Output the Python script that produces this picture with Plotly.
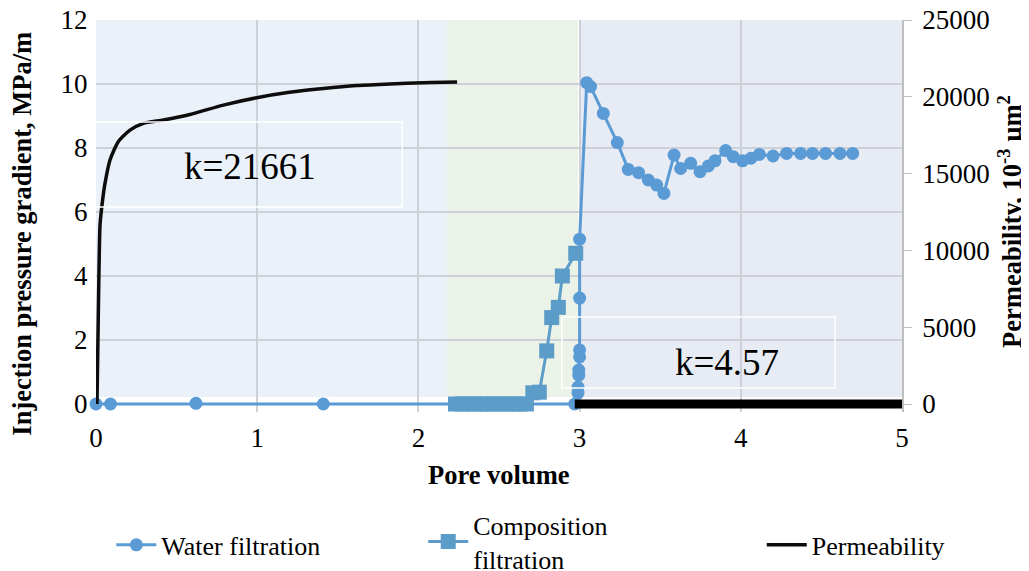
import plotly.graph_objects as go

# ---------------- data ----------------
water_x = [0, 0.09, 0.62, 1.41, 2.97, 2.99, 2.99, 2.995, 2.995, 3.0, 3.0, 3.0, 3.0,
           3.044, 3.068, 3.147, 3.234, 3.302, 3.366, 3.426, 3.478, 3.523, 3.586,
           3.627, 3.689, 3.747, 3.799, 3.84, 3.906, 3.953, 4.011, 4.063, 4.115,
           4.2, 4.284, 4.371, 4.445, 4.526, 4.615, 4.694]
water_y = [0, 0, 0.02, 0, 0, 0.34, 0.53, 0.9, 1.06, 1.47, 1.69, 3.31, 5.15,
           10.04, 9.92, 9.08, 8.17, 7.33, 7.23, 7.0, 6.84, 6.58, 7.78,
           7.36, 7.52, 7.26, 7.44, 7.6, 7.92, 7.73, 7.6, 7.68, 7.8,
           7.75, 7.83, 7.83, 7.83, 7.83, 7.83, 7.83]

comp_x = [2.23, 2.27, 2.31, 2.35, 2.39, 2.43, 2.47, 2.51, 2.55, 2.59, 2.63, 2.67,
          2.71, 2.75, 2.796, 2.827, 2.868, 2.893, 2.976]
comp_y = [0, 0, 0, 0, 0, 0, 0, 0, 0, 0, 0, 0,
          0.35, 0.37, 1.66, 2.7, 3.02, 4.0, 4.71]

perm1_x = [0.006, 0.012, 0.018, 0.025, 0.041, 0.056, 0.087, 0.138, 0.211, 0.294,
           0.418, 0.583, 0.79, 0.997, 1.2, 1.41, 1.617, 1.824, 2.03, 2.24]
perm1_y = [0, 4170, 8330, 11670, 13280, 14380, 15890, 17080, 17830, 18270,
           18490, 18850, 19460, 19940, 20290, 20540, 20730, 20830, 20920, 20960]

perm2_x = [2.97, 5.0]
perm2_y = [4.57, 4.57]

left_ticks = [0, 2, 4, 6, 8, 10, 12]
right_ticks = [0, 5000, 10000, 15000, 20000, 25000]
right_ticktext = ["0", "5000", "10000", "15000", "20000", "25000"]
x_ticks = [0, 1, 2, 3, 4, 5]

label_k1 = "k=21661"
label_k2 = "k=4.57"

# ---------------- styling ----------------
FONT = "Liberation Serif"
BLUE = "#5b9bd5"
BLUE2 = "#5b9cc8"
GRID = "#cdd1d7"
TICK = 27
TITLE = 26.5

fig = go.Figure()

fig.add_trace(go.Scatter(
    x=water_x, y=water_y, name="Water filtration", mode="lines+markers",
    line=dict(color=BLUE, width=3), marker=dict(symbol="circle", size=13, color=BLUE),
    cliponaxis=False, yaxis="y", legend="legend"))

fig.add_trace(go.Scatter(
    x=comp_x, y=comp_y, name="Composition<br>filtration", mode="lines+markers",
    line=dict(color=BLUE2, width=3), marker=dict(symbol="square", size=15, color=BLUE2),
    cliponaxis=False, yaxis="y", legend="legend2"))

fig.add_trace(go.Scatter(
    x=perm1_x, y=perm1_y, name="Permeability", mode="lines",
    line=dict(color="#0d0d0d", width=3.5, shape="spline", smoothing=0.6),
    yaxis="y2", legend="legend3"))

fig.add_trace(go.Scatter(
    x=perm2_x, y=perm2_y, name="Permeability", mode="lines", showlegend=False,
    line=dict(color="#000000", width=9), yaxis="y2", legend="legend3"))

# background regions (below gridlines)
regions = [(0, 2.18, "#eaf1f9"), (2.18, 2.99, "#ebf3e8"), (3.005, 5.0, "#e7ebf3")]
for x0, x1, col in regions:
    fig.add_shape(type="rect", xref="x", yref="y", x0=x0, x1=x1, y0=0.22, y1=12,
                  fillcolor=col, line=dict(width=0), layer="below")

# annotation boxes
fig.add_shape(type="rect", xref="x", yref="y", x0=-0.012, x1=1.9, y0=6.16, y1=8.81,
              line=dict(color="white", width=1.5), layer="above")
fig.add_shape(type="rect", xref="x", yref="y", x0=2.89, x1=4.585, y0=0.5, y1=2.72,
              line=dict(color="white", width=1.5), layer="above")

fig.add_annotation(x=0.955, y=7.41, xref="x", yref="y", text=label_k1, showarrow=False,
                   font=dict(family=FONT, size=37, color="#000000"))
fig.add_annotation(x=3.914, y=1.31, xref="x", yref="y", text=label_k2, showarrow=False,
                   font=dict(family=FONT, size=37, color="#000000"))

# axis titles
fig.add_annotation(x=0.5, y=-0.161, xref="paper", yref="paper", text="<b>Pore volume</b>",
                   showarrow=False, xanchor="center", yanchor="middle",
                   font=dict(family=FONT, size=TITLE, color="#000000"))
fig.add_annotation(x=-0.0918, y=0.455, xref="paper", yref="paper",
                   text="<b>Injection pressure gradient, MPa/m</b>", textangle=-90,
                   showarrow=False, xanchor="center", yanchor="middle",
                   font=dict(family=FONT, size=TITLE, color="#000000"))
fig.add_annotation(x=1.134, y=0.485, xref="paper", yref="paper",
                   text="<b>Permeability, 10<sup>-3</sup> µm<sup>2</sup></b>", textangle=-90,
                   showarrow=False, xanchor="center", yanchor="middle",
                   font=dict(family=FONT, size=TITLE, color="#000000"))

leg_common = dict(orientation="h", yanchor="middle", xanchor="left",
                  font=dict(family=FONT, size=26, color="#000000"),
                  bgcolor="rgba(0,0,0,0)", itemwidth=40)

# page body has an 8px margin: figure is 1021x563 so the plot lands at the reference pixels
fig.update_layout(
    width=1021, height=563,
    margin=dict(l=88, r=127, t=12, b=159, autoexpand=False),
    paper_bgcolor="white", plot_bgcolor="white",
    font=dict(family=FONT, size=TICK, color="#000000"),
    showlegend=True,
    legend=dict(x=0.019, y=-0.339, **leg_common),
    legend2=dict(x=0.406, y=-0.331, **leg_common),
    legend3=dict(x=0.826, y=-0.339, **leg_common),
    xaxis=dict(range=[0, 5], tickvals=x_ticks, showgrid=True, gridcolor=GRID, gridwidth=1.5,
               zeroline=False, showline=False, ticks="outside", ticklen=2,
               tickcolor="rgba(0,0,0,0)", automargin=False, ticklabeloverflow="allow",
               tickfont=dict(family=FONT, size=TICK)),
    yaxis=dict(range=[-0.25, 12], tickvals=left_ticks, showgrid=True, gridcolor=GRID,
               gridwidth=1.5, zeroline=False, showline=False, ticks="outside", ticklen=2,
               tickcolor="rgba(0,0,0,0)", automargin=False, ticklabeloverflow="allow",
               tickfont=dict(family=FONT, size=TICK)),
    yaxis2=dict(range=[-520.83, 25000], tickvals=right_ticks, ticktext=right_ticktext,
                overlaying="y", side="right",
                showgrid=False, zeroline=False, showline=True, linecolor="#bfbfbf", linewidth=1.5,
                ticks="outside", ticklen=8, tickcolor="#bfbfbf", ticklabelstandoff=5,
                automargin=False, ticklabeloverflow="allow",
                tickfont=dict(family=FONT, size=TICK)),
)

fig.write_html("out.html")
